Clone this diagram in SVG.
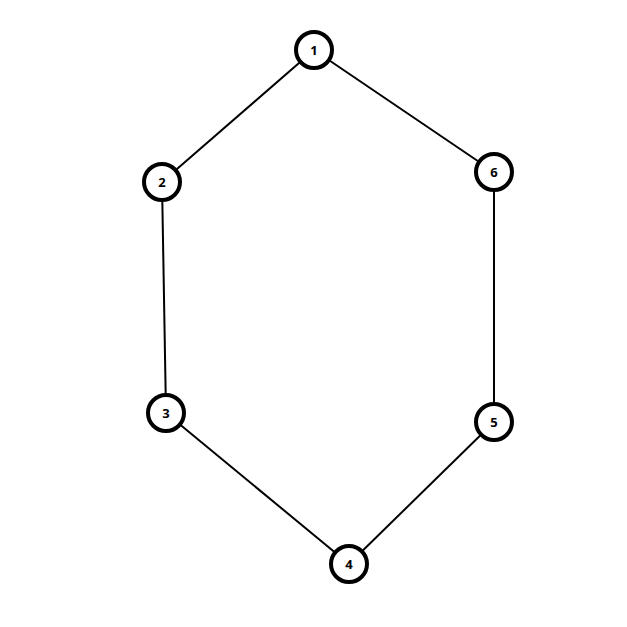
<svg xmlns="http://www.w3.org/2000/svg" width="627" height="627" viewBox="0 0 627 627">
<style>
.n circle{fill:#fff;stroke:#000;stroke-width:4}
.n text{font-family:"Open Sans",sans-serif;font-weight:bold;font-size:13px;text-anchor:middle;dominant-baseline:central;fill:#000}
.e line{stroke:#000;stroke-width:2}
</style>
<rect width="627" height="627" fill="#fff"/>
<g id="edges" class="e">
<line x1="314" y1="50" x2="162" y2="182"/>
<line x1="314" y1="50" x2="494" y2="172"/>
<line x1="162" y1="182" x2="166" y2="413"/>
<line x1="494" y1="172" x2="494" y2="422"/>
<line x1="166" y1="413" x2="349" y2="564"/>
<line x1="494" y1="422" x2="349" y2="564"/>
</g>
<g id="node1" class="n"><circle cx="314" cy="50" r="18"/><text x="314" y="50">1</text></g>
<g id="node2" class="n"><circle cx="162" cy="182" r="18"/><text x="162" y="182">2</text></g>
<g id="node3" class="n"><circle cx="166" cy="413" r="18"/><text x="166" y="413">3</text></g>
<g id="node4" class="n"><circle cx="349" cy="564" r="18"/><text x="349" y="564">4</text></g>
<g id="node5" class="n"><circle cx="494" cy="422" r="18"/><text x="494" y="422">5</text></g>
<g id="node6" class="n"><circle cx="494" cy="172" r="18"/><text x="494" y="172">6</text></g>
</svg>
